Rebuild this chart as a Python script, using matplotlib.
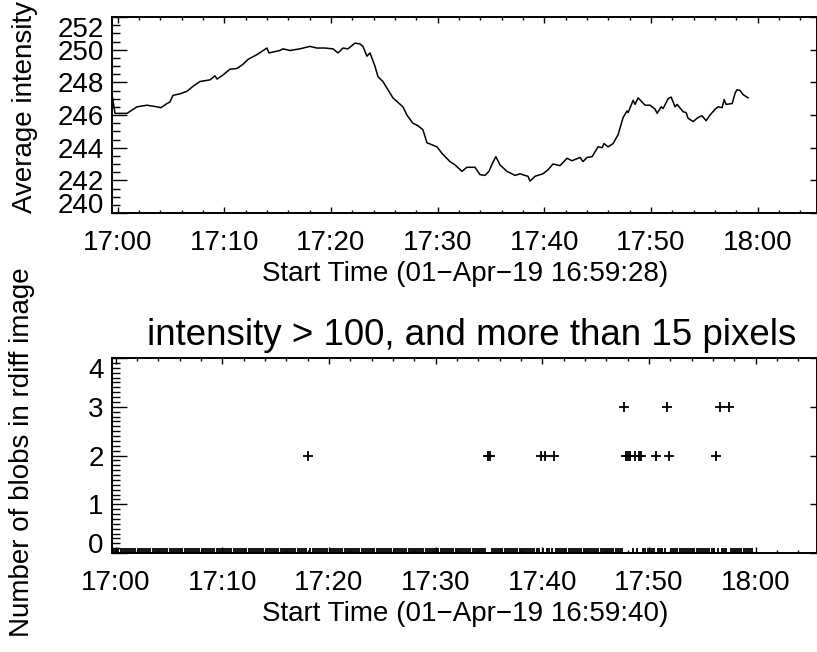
import numpy as np
import matplotlib
matplotlib.use('Agg')
import matplotlib.pyplot as plt
from matplotlib.ticker import MultipleLocator, FuncFormatter
from matplotlib.transforms import ScaledTranslation

plt.rcParams['font.family'] = ['Liberation Sans', 'DejaVu Sans']

# average intensity curve, time in minutes after 17:00
t_int = [-0.53, -0.25, 0.87, 1.81, 2.75, 3.68, 4.06, 4.62, 4.90, 5.18,
         5.84, 6.49, 7.05, 7.71, 8.65, 9.12, 9.31, 9.87, 10.52, 11.18,
         11.74, 12.21, 13.06, 13.99, 14.18, 15.21, 15.49, 16.15, 17.08, 18.02,
         18.68, 19.43, 20.18, 20.65, 21.12, 21.58, 22.24, 22.71, 22.99, 23.36,
         23.65, 24.11, 24.40, 24.86, 25.80, 26.74, 27.11, 27.67, 28.14, 28.61,
         28.99, 29.93, 30.40, 31.14, 31.61, 32.27, 32.74, 33.49, 33.96, 34.43,
         34.80, 35.17, 35.45, 35.83, 36.49, 36.96, 37.24, 37.71, 38.17, 38.46,
         38.65, 39.12, 39.87, 40.34, 40.81, 41.46, 42.12, 42.59, 43.34, 43.62,
         44.00, 44.47, 45.03, 45.41, 45.59, 45.97, 46.44, 46.91, 47.38, 47.75,
         47.85, 48.32, 48.50, 48.78, 49.44, 49.91, 50.38, 50.57, 50.94, 51.13,
         51.60, 51.88, 52.25, 52.44, 53.00, 53.28, 53.47, 53.94, 54.41, 54.78,
         55.16, 55.53, 56.00, 56.28, 56.66, 56.85, 57.03, 57.60, 57.88, 58.06,
         58.34, 58.62, 59.09]
avg_int = [247.25, 246.1, 246.1, 246.5, 246.6, 246.5, 246.45, 246.7, 246.8, 247.2,
           247.3, 247.45, 247.75, 248.05, 248.15, 248.4, 248.2, 248.45, 248.8, 248.85,
           249.1, 249.4, 249.7, 250.1, 249.8, 249.95, 250.05, 249.95, 250.05, 250.2,
           250.1, 250.1, 250.05, 249.8, 250.1, 250.05, 250.4, 250.35, 250.2, 249.6,
           249.8, 249.0, 248.35, 248.05, 247.05, 246.5, 246.0, 245.5, 245.35, 245.1,
           244.3, 244.05, 243.65, 243.15, 242.95, 242.55, 242.8, 242.8, 242.35, 242.3,
           242.55, 243.1, 243.45, 242.95, 242.55, 242.4, 242.3, 242.4, 242.3, 242.25,
           241.95, 242.25, 242.4, 242.65, 243.0, 242.9, 243.35, 243.2, 243.4, 243.15,
           243.4, 243.45, 244.05, 244.0, 244.25, 244.05, 244.25, 244.8, 245.85, 246.25,
           246.15, 246.9, 246.65, 247.05, 246.6, 246.6, 246.35, 246.1, 246.5, 246.4,
           247.0, 247.1, 246.5, 246.65, 246.2, 246.15, 245.8, 245.6, 245.85, 245.95,
           245.65, 246.0, 246.35, 246.5, 246.45, 246.95, 246.65, 246.7, 247.35, 247.55,
           247.5, 247.25, 247.05]

# blob counts per rdiff frame (12 s cadence starting 16:59:40)
frame_t0 = -1.0 / 3.0
cadence = 0.2
n_frames = 301
blob_frames = [92, 176, 177, 201, 203, 207, 240, 241, 242, 243, 245, 247, 248,
               255, 260, 261, 283, 285, 289]
blob_counts = [2, 2, 2, 2, 2, 2, 3, 2, 2, 2, 2, 2, 2,
               2, 3, 2, 2, 3, 3]

counts = np.zeros(n_frames)
counts[blob_frames] = blob_counts
t_frames = frame_t0 + cadence * np.arange(n_frames)

W, H = 817, 652
fig = plt.figure(figsize=(W / 100, H / 100), dpi=100)


def px_axes(l, t, r, b):
    return fig.add_axes([l / W, 1 - b / H, (r - l) / W, (b - t) / H])


def hhmm(m, pos=None):
    tot = int(round(17 * 60 + m))
    return '%02d:%02d' % (tot // 60, tot % 60)


def style(ax, yticks, yminor):
    ax.xaxis.set_major_locator(MultipleLocator(10))
    ax.xaxis.set_minor_locator(MultipleLocator(2))
    ax.xaxis.set_major_formatter(FuncFormatter(hhmm))
    ax.set_yticks(yticks)
    ax.yaxis.set_minor_locator(MultipleLocator(yminor))
    ax.tick_params(axis='x', which='both', direction='in', top=True, bottom=True,
                   labelsize=20, pad=12, width=1.0)
    ax.tick_params(axis='x', which='major', length=4)
    ax.tick_params(axis='x', which='minor', length=2.2)
    ax.tick_params(axis='y', which='both', direction='in', left=True, right=False,
                   labelsize=20, pad=6, width=1.0)
    ax.tick_params(axis='y', which='major', length=10.8)
    ax.tick_params(axis='y', which='minor', length=5.5)
    for s in ax.spines.values():
        s.set_linewidth(1.4)
    # pull the end labels in from the axis corners
    ticks = ax.yaxis.get_major_ticks()
    for tk, dy in ((ticks[0], 10), (ticks[-1], -10)):
        lab = tk.label1
        lab.set_transform(lab.get_transform() + ScaledTranslation(0, dy / 100, fig.dpi_scale_trans))
    # short ticks on the right-hand axis
    sec = ax.secondary_yaxis('right')
    sec.set_yticks(yticks)
    sec.yaxis.set_minor_locator(MultipleLocator(yminor))
    sec.tick_params(axis='y', which='both', direction='in', labelright=False, width=1.0)
    sec.tick_params(axis='y', which='major', length=5.8)
    sec.tick_params(axis='y', which='minor', length=1.5)
    sec.spines['right'].set_linewidth(1.4)


# top panel: average intensity
ax1 = px_axes(112, 17, 817.5, 213)
ax1.plot(t_int, avg_int, color='k', lw=1.1)
ax1.set_xlim(-0.533, 65.6)
ax1.set_ylim(240, 252)
style(ax1, np.arange(240, 253, 2), 0.5)
ax1.set_xlabel('Start Time (01\u2212Apr\u221219 16:59:28)', fontsize=20, labelpad=3.5)
fig.text(25 / W, 1 - 107 / H, 'Average intensity', rotation=90, fontsize=20,
         ha='center', va='center')

# bottom panel: number of blobs
ax2 = px_axes(112, 358, 817.5, 553)
ax2.plot(t_frames, counts, '+', color='k', ms=7.2, mew=1.3)
ax2.set_xlim(-0.333, 65.8)
ax2.set_ylim(0, 4)
style(ax2, np.arange(0, 5, 1), 0.1)
ax2.set_xlabel('Start Time (01\u2212Apr\u221219 16:59:40)', fontsize=20, labelpad=3.5)
fig.text(22 / W, 1 - 452 / H, 'Number of blobs in rdiff image', rotation=90,
         fontsize=20, ha='center', va='center')
fig.text(472 / W, 1 - 345 / H, 'intensity > 100, and more than 15 pixels',
         fontsize=26.5, ha='center', va='baseline')

fig.savefig('out.png', dpi=100)
